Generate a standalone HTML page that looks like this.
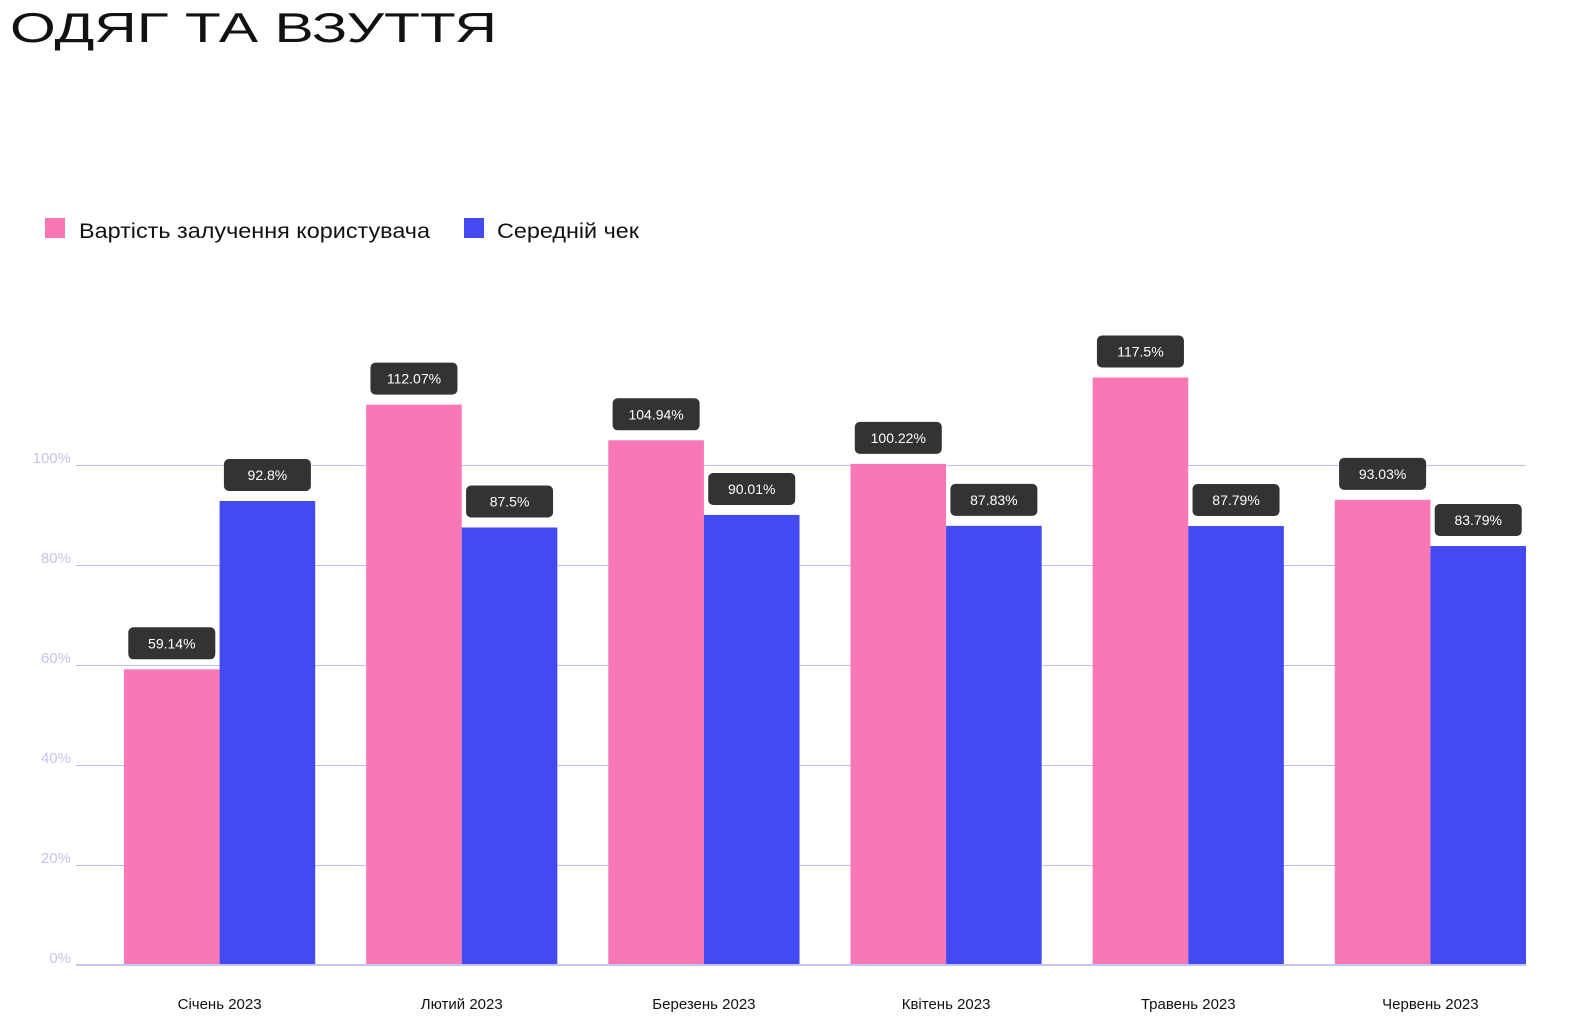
<!DOCTYPE html>
<html><head><meta charset="utf-8"><style>
html,body{margin:0;padding:0;background:#fff;}
svg{display:block;}
text{font-family:"Liberation Sans","DejaVu Sans",sans-serif;}
</style></head><body>
<svg width="1592" height="1022" viewBox="0 0 1592 1022" xmlns="http://www.w3.org/2000/svg">
<text x="10" y="42" font-size="42" fill="#111" textLength="487" lengthAdjust="spacingAndGlyphs">ОДЯГ ТА ВЗУТТЯ</text>
<rect x="45" y="218" width="20" height="20" fill="#f977b4"/>
<text x="79" y="238" font-size="21" fill="#111" textLength="351" lengthAdjust="spacingAndGlyphs">Вартість залучення користувача</text>
<rect x="464" y="218" width="20" height="20" fill="#434af2"/>
<text x="497" y="238" font-size="21" fill="#111" textLength="142" lengthAdjust="spacingAndGlyphs">Середній чек</text>
<g stroke="#bcbcf0" stroke-width="1">
<line x1="76" y1="465.5" x2="1526" y2="465.5"/>
<line x1="76" y1="565.5" x2="1526" y2="565.5"/>
<line x1="76" y1="665.5" x2="1526" y2="665.5"/>
<line x1="76" y1="765.5" x2="1526" y2="765.5"/>
<line x1="76" y1="865.5" x2="1526" y2="865.5"/>
</g>
<g font-size="15" fill="#c2c2ee" text-anchor="end">
<text x="71" y="463">100%</text>
<text x="71" y="563">80%</text>
<text x="71" y="663">60%</text>
<text x="71" y="763">40%</text>
<text x="71" y="863">20%</text>
<text x="71" y="963">0%</text>
</g>
<g fill="#f977b4">
<rect x="124" y="669.3" width="95.6" height="295.7"/>
<rect x="366.16" y="404.65" width="95.6" height="560.35"/>
<rect x="608.32" y="440.3" width="95.6" height="524.7"/>
<rect x="850.48" y="463.9" width="95.6" height="501.1"/>
<rect x="1092.64" y="377.5" width="95.6" height="587.5"/>
<rect x="1334.8" y="499.85" width="95.6" height="465.15"/>
</g>
<g fill="#434af2">
<rect x="219.6" y="501" width="95.6" height="464"/>
<rect x="461.76" y="527.5" width="95.6" height="437.5"/>
<rect x="703.92" y="514.95" width="95.6" height="450.05"/>
<rect x="946.08" y="525.85" width="95.6" height="439.15"/>
<rect x="1188.24" y="526.05" width="95.6" height="438.95"/>
<rect x="1430.4" y="546.05" width="95.6" height="418.95"/>
</g>
<line x1="76" y1="965" x2="1526" y2="965" stroke="#c4c4f0" stroke-width="2"/>
<g fill="#333">
<rect x="128.3" y="627.3" width="87" height="32" rx="5"/>
<rect x="370.46" y="362.65" width="87" height="32" rx="5"/>
<rect x="612.62" y="398.3" width="87" height="32" rx="5"/>
<rect x="854.78" y="421.9" width="87" height="32" rx="5"/>
<rect x="1096.94" y="335.5" width="87" height="32" rx="5"/>
<rect x="1339.1" y="457.85" width="87" height="32" rx="5"/>
<rect x="223.9" y="459" width="87" height="32" rx="5"/>
<rect x="466.06" y="485.5" width="87" height="32" rx="5"/>
<rect x="708.22" y="472.95" width="87" height="32" rx="5"/>
<rect x="950.38" y="483.85" width="87" height="32" rx="5"/>
<rect x="1192.54" y="484.05" width="87" height="32" rx="5"/>
<rect x="1434.7" y="504.05" width="87" height="32" rx="5"/>
</g>
<g font-size="14" fill="#fff" text-anchor="middle">
<text x="171.8" y="648.3">59.14%</text>
<text x="413.96" y="383.65">112.07%</text>
<text x="656.12" y="419.3">104.94%</text>
<text x="898.28" y="442.9">100.22%</text>
<text x="1140.44" y="356.5">117.5%</text>
<text x="1382.6" y="478.85">93.03%</text>
<text x="267.4" y="480">92.8%</text>
<text x="509.56" y="506.5">87.5%</text>
<text x="751.72" y="493.95">90.01%</text>
<text x="993.88" y="504.85">87.83%</text>
<text x="1236.04" y="505.05">87.79%</text>
<text x="1478.2" y="525.05">83.79%</text>
</g>
<g font-size="15" fill="#111" text-anchor="middle">
<text x="219.6" y="1009">Січень 2023</text>
<text x="461.76" y="1009">Лютий 2023</text>
<text x="703.92" y="1009">Березень 2023</text>
<text x="946.08" y="1009">Квітень 2023</text>
<text x="1188.24" y="1009">Травень 2023</text>
<text x="1430.4" y="1009">Червень 2023</text>
</g>
</svg>
</body></html>
